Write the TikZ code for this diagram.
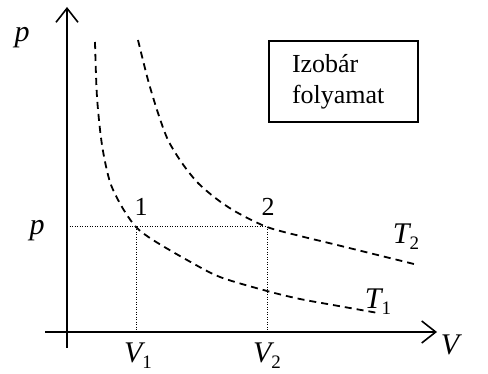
\documentclass[tikz,border=0pt]{standalone}
\usepackage{fontspec}
\setmainfont{Liberation Serif}
\usetikzlibrary{arrows.meta,positioning}
\newcommand{\lowidx}[1]{\raisebox{-0.45ex}{\fontsize{19}{19}\selectfont #1}}

\begin{document}
\begin{tikzpicture}[
    x=1pt, y=-1pt,
    font=\fontsize{26}{31}\selectfont,
    axis/.style={line width=2pt, -{Straight Barb[length=14pt,width=22pt,line width=1.6pt]}},
    iso/.style={line width=1.8pt, dash pattern=on 7pt off 5pt},
    guide/.style={line width=1pt, dash pattern=on 1pt off 1.5pt},
    lab/.style={inner sep=0pt},
    varlab/.style={inner sep=0pt, font=\fontsize{30}{30}\selectfont\itshape},
    infobox/.style={draw, line width=1.8pt, minimum width=149pt, minimum height=81pt, text width=103pt, align=left, inner sep=0pt}
]
\useasboundingbox (0,0) rectangle (488,374);
% axes
\coordinate (ybot) at (67,348);
\coordinate (ytop) at (67,7);
\coordinate (xleft) at (45,332);
\coordinate (xright) at (437,332);
\draw[axis] (ybot) -- (ytop);
\draw[axis] (xleft) -- (xright);
% states and their projections
\coordinate (p1) at (136,227);
\coordinate (p2) at (267,227);
\coordinate (py) at (67,227);
\coordinate (v1) at (136,332);
\coordinate (v2) at (267,332);
\draw[guide] (py) -- (p2);
\draw[guide] (p1) -- (v1);
\draw[guide] (p2) -- (v2);
% isotherms
\draw[iso] plot[smooth] coordinates {(95,42) (97,97) (102,145) (110,182) (122,207) (p1) (153,240) (187,260) (220,277) (267,291) (300,299) (333,305) (378,313)};
\draw[iso] plot[smooth] coordinates {(138,40) (148,80) (158,113) (168,140) (182,163) (198,183) (218,200) (238,213) (p2) (300,236) (333,244) (418,265)};
% labels
\node[varlab] (ptop) at (22,38) {p};
\node[varlab] (pval) at (37,231) {p};
\node[lab] (n1) at (141,207) {1};
\node[lab] (n2) at (268,207) {2};
\node[varlab] (lv1) at (138,356) {V\lowidx{\upshape 1}};
\node[varlab] (lv2) at (267,356) {V\lowidx{\upshape 2}};
\node[varlab] (lv) at (450,345) {V};
\node[varlab] (lt2) at (406,237) {T\lowidx{\upshape 2}};
\node[varlab] (lt1) at (378,302) {T\lowidx{\upshape 1}};
\node[infobox] (box) at (343.5,81.5) {Izobár\\folyamat};
\end{tikzpicture}
\end{document}
